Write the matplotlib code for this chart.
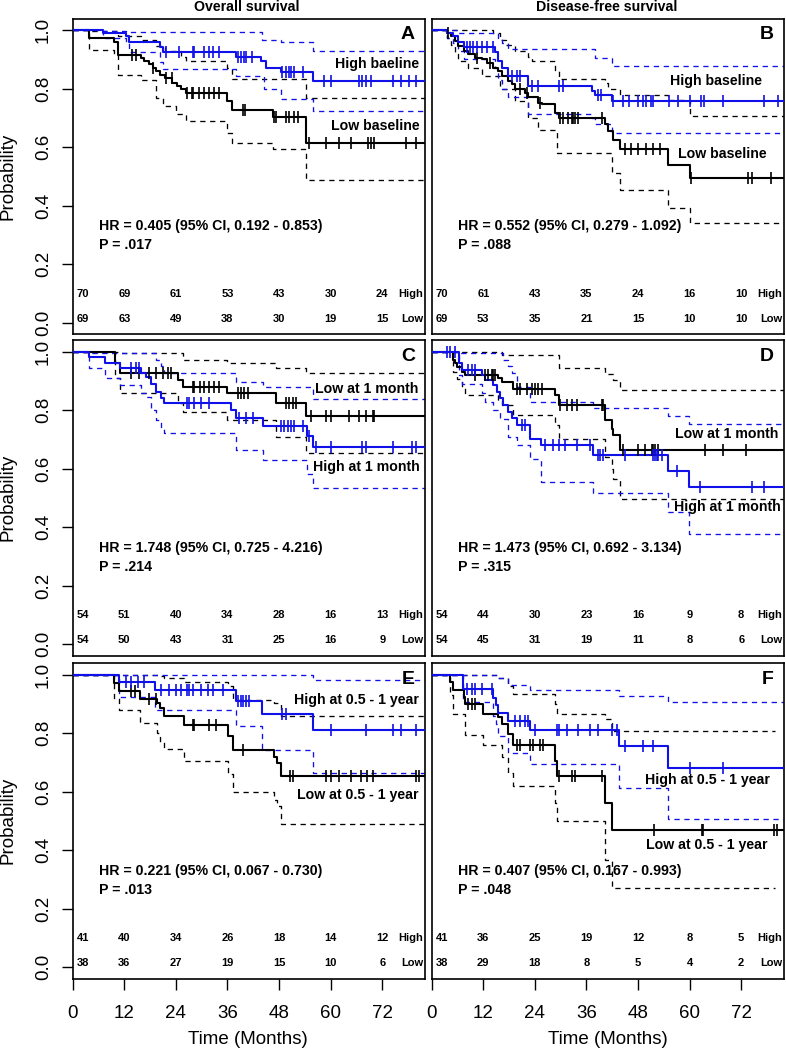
import numpy as np
import matplotlib
matplotlib.use("Agg")
import matplotlib.pyplot as plt

plt.rcParams['font.family'] = ['Liberation Sans', 'DejaVu Sans']

BLUE = '#1010e8'
BLACK = 'black'

# (time, survival) step points; curves start at 1.0
# --- A: overall survival, baseline
a_hi = [(7.0, .992), (12.4, .981), (13.2, .958), (20.2, .942), (20.9, .927), (38.0, .910),
        (43.8, .895), (45.0, .872), (48.5, .858), (55.8, .825)]
a_hi_up = [(7.0, .998), (12.4, .993), (44.0, .968), (48.5, .958), (55.8, .929)]
a_hi_lo = [(7.0, .975), (12.4, .958), (13.2, .925), (20.2, .89), (20.9, .866), (38.0, .843),
           (44.5, .80), (48.5, .763), (55.8, .723)]
a_hi_cens = [21.7, 24.8, 27.9, 28.3, 30.6, 31.8, 32.6, 34.1, 38.4, 39.1, 39.9, 40.3, 41.8, 48.8,
             49.6, 50.4, 50.8, 51.5, 53.5, 58.5, 60.1, 66.6, 67.4, 68.2, 69.4, 74.4, 76.3, 78.3, 79.8]
a_lo = [(3.8, .972), (9.5, .958), (10.6, .915), (15.9, .904), (16.7, .895), (17.7, .883),
        (18.6, .872), (19.4, .861), (20.3, .847), (21.5, .838), (23.2, .821), (24.2, .809),
        (25.2, .798), (26.3, .786), (36.0, .758), (37.1, .726), (46.6, .703), (54.3, .615)]
a_lo_up = [(3.8, .998), (10.6, .98), (15.9, .965), (19.4, .945), (21.5, .93), (25.2, .91),
           (26.3, .895), (36.0, .87), (37.1, .832), (54.3, .769)]
a_lo_lo = [(3.8, .933), (9.5, .915), (10.6, .847), (15.9, .83), (19.4, .769), (21.0, .74),
           (24.0, .712), (26.3, .689), (36.0, .65), (37.1, .615), (46.6, .592), (54.3, .489)]
a_lo_cens = [13.8, 14.7, 18.6, 21.7, 23.1, 26.7, 27.7, 28.0, 29.3, 30.6, 31.8, 32.9, 34.1, 39.5,
             40.1, 46.9, 47.3, 49.6, 50.4, 51.5, 52.3, 55.0, 58.9, 62.0, 64.7, 68.6, 69.4, 70.1,
             77.5, 79.8]
a_risk_hi = [70, 69, 61, 53, 43, 30, 24]
a_risk_lo = [69, 63, 49, 38, 30, 19, 15]

# --- B: disease-free survival, baseline
b_hi = [(3.5, .992), (5.0, .981), (6.2, .958), (7.4, .941), (14.7, .924), (15.5, .895),
        (16.3, .872), (17.8, .843), (22.5, .808), (37.2, .792), (38.0, .778), (41.9, .757)]
b_hi_up = [(6.2, .99), (15.5, .97), (16.3, .955), (17.8, .935), (38.0, .905), (41.9, .878)]
b_hi_lo = [(3.5, .975), (5.0, .955), (6.2, .93), (7.4, .90), (14.7, .87), (15.5, .83),
           (16.3, .80), (17.8, .77), (22.5, .712), (37.2, .70), (38.0, .678), (41.9, .649)]
b_hi_cens = [8.1, 8.9, 9.7, 10.5, 11.6, 12.8, 14.3, 18.6, 19.8, 20.5, 23.3, 24.8, 29.5, 30.6,
             38.6, 39.3, 42.2, 44.5, 46.0, 47.9, 49.1, 49.9, 51.0, 51.4, 55.3, 57.2, 60.0, 62.7,
             63.4, 67.7, 77.4, 80.5]
b_lo = [(3.5, .992), (4.6, .981), (5.4, .963), (6.2, .946), (7.4, .929), (8.5, .918),
        (10.1, .906), (11.6, .90), (12.8, .889), (14.3, .872), (15.5, .861), (16.3, .844),
        (17.8, .826), (18.6, .815), (19.4, .798), (21.7, .786), (22.5, .771), (24.8, .752),
        (25.6, .746), (28.7, .718), (29.5, .700), (40.3, .678), (41.1, .655), (42.2, .626),
        (43.8, .592), (55.0, .540), (60.0, .493)]
b_lo_up = [(14.3, .99), (15.9, .965), (17.4, .95), (19.4, .929), (22.5, .91), (23.3, .895),
           (28.7, .861), (29.5, .834), (40.3, .82), (41.1, .798), (43.8, .78), (55.0, .76),
           (60.0, .706)]
b_lo_lo = [(3.5, .975), (4.6, .95), (5.4, .92), (6.2, .895), (8.5, .872), (11.6, .843),
           (15.9, .798), (19.4, .758), (22.5, .70), (24.8, .66), (29.1, .58), (41.9, .512),
           (43.8, .455), (55.0, .392), (60.0, .34)]
b_lo_cens = [3.9, 10.5, 13.6, 20.5, 22.1, 25.2, 29.8, 30.6, 31.8, 32.6, 32.9, 33.3, 34.1, 39.5,
             44.9, 46.4, 47.9, 49.9, 51.4, 53.0, 60.4, 73.5, 74.6, 79.0]
b_risk_hi = [70, 61, 43, 35, 24, 16, 10]
b_risk_lo = [69, 53, 35, 21, 15, 10, 10]

# --- C: overall survival, 1 month
c_hi = [(3.7, .983), (7.4, .96), (10.9, .943), (15.9, .926), (17.0, .914), (18.2, .891),
        (19.4, .863), (20.5, .84), (21.3, .823), (36.8, .80), (38.0, .772), (44.2, .745),
        (54.6, .712), (55.9, .673)]
c_hi_up = [(3.7, .995), (19.4, .97), (20.5, .95), (21.3, .928), (38.0, .897), (44.2, .88),
           (55.9, .837)]
c_hi_lo = [(3.7, .943), (7.4, .909), (10.9, .885), (15.9, .86), (17.0, .845), (18.2, .80),
           (19.4, .765), (20.5, .74), (21.3, .721), (38.0, .663), (44.2, .629), (54.6, .58),
           (55.9, .535)]
c_hi_cens = [13.6, 14.7, 15.5, 26.7, 27.1, 28.3, 29.8, 31.8, 38.8, 40.3, 41.9, 48.4, 49.2, 50.0,
             50.8, 51.5, 53.5, 55.0, 56.6, 60.1, 67.4, 68.2, 74.4, 79.0, 79.8]
c_lo = [(9.8, .962), (10.9, .926), (24.4, .903), (25.6, .88), (36.0, .857), (47.3, .823),
        (54.3, .779)]
c_lo_up = [(10.9, .995), (25.6, .97), (36.0, .96), (47.3, .943), (54.3, .926)]
c_lo_lo = [(9.8, .91), (10.9, .857), (24.4, .825), (25.6, .795), (36.0, .766), (47.3, .709),
           (54.3, .655)]
c_lo_cens = [13.6, 15.5, 17.8, 19.4, 20.9, 22.1, 22.9, 27.9, 28.3, 29.5, 30.6, 31.8, 32.9, 34.1,
             38.4, 39.1, 39.9, 40.7, 49.6, 50.4, 51.2, 51.9, 55.4, 58.9, 60.1, 64.3, 66.6, 68.2,
             69.8, 70.1]
c_risk_hi = [54, 51, 40, 34, 28, 16, 13]
c_risk_lo = [54, 50, 43, 31, 25, 16, 9]

# --- D: disease-free survival, 1 month
d_hi = [(6.4, .96), (7.0, .937), (11.6, .92), (12.4, .903), (14.3, .885), (15.1, .863),
        (15.9, .84), (16.7, .817), (17.8, .794), (18.6, .772), (19.8, .749), (22.9, .703),
        (25.5, .68), (37.5, .646), (54.9, .592), (59.9, .536)]
d_hi_up = [(6.4, .997), (16.7, .97), (17.8, .95), (18.6, .926), (19.8, .88), (22.9, .829),
           (37.5, .806), (54.9, .78), (59.9, .754)]
d_hi_lo = [(6.4, .92), (7.0, .891), (11.6, .86), (12.4, .829), (14.3, .80), (15.9, .77),
           (17.8, .709), (19.8, .68), (22.9, .634), (25.5, .554), (37.5, .518), (54.9, .452),
           (59.9, .376)]
d_hi_cens = [3.5, 4.3, 5.4, 8.5, 9.3, 10.1, 20.9, 21.7, 26.3, 28.3, 29.5, 31.0, 33.7, 36.8, 38.8,
             39.1, 39.9, 44.9, 51.5, 51.9, 52.3, 52.7, 53.5, 57.0, 62.4, 74.6, 77.3]
d_lo = [(5.0, .971), (5.4, .96), (5.8, .949), (7.0, .931), (7.7, .92), (15.5, .909), (16.3, .897),
        (19.0, .874), (28.7, .851), (29.5, .817), (40.3, .766), (41.9, .737), (42.2, .714),
        (43.8, .663)]
d_lo_up = [(16.3, .989), (29.5, .943), (40.3, .925), (42.2, .903), (43.8, .869)]
d_lo_lo = [(5.0, .93), (5.8, .905), (7.0, .875), (7.7, .851), (15.5, .83), (16.3, .817),
           (19.0, .783), (28.7, .75), (29.5, .703), (40.3, .64), (41.9, .60), (42.2, .566),
           (43.8, .497)]
d_lo_cens = [10.1, 12.4, 13.2, 14.0, 14.3, 14.7, 19.8, 20.5, 22.1, 23.3, 24.0, 24.8, 25.6, 29.8,
             31.4, 32.6, 33.7, 39.5, 39.9, 44.5, 48.1, 49.6, 51.2, 51.5, 51.9, 52.7, 63.5, 67.8,
             73.2]
d_risk_hi = [54, 44, 30, 23, 16, 9, 8]
d_risk_lo = [54, 45, 31, 19, 11, 8, 6]

# --- E: overall survival, 0.5 - 1 year
e_hi = [(10.8, .976), (19.1, .948), (38.0, .91), (44.0, .864), (56.0, .81)]
e_hi_up = [(10.8, .999), (56.0, .983)]
e_hi_lo = [(10.8, .925), (19.1, .879), (38.0, .825), (44.0, .742), (56.0, .662)]
e_hi_cens = [12.4, 13.6, 15.1, 16.7, 20.5, 22.5, 24.0, 25.2, 26.7, 27.1, 27.9, 29.8, 31.4, 32.6,
             34.9, 38.4, 39.1, 39.5, 40.3, 41.1, 48.8, 49.6, 60.1, 68.2, 74.4, 76.3, 79.8]
e_lo = [(9.6, .972), (10.8, .945), (15.6, .918), (19.6, .903), (20.4, .887), (21.3, .859),
        (25.9, .828), (36.2, .79), (37.4, .742), (46.9, .72), (47.5, .698), (48.4, .652)]
e_lo_up = [(20.4, .995), (21.3, .99), (25.9, .975), (36.2, .96), (37.4, .915), (46.9, .903),
           (48.4, .859)]
e_lo_lo = [(9.6, .92), (10.8, .878), (15.6, .834), (19.6, .80), (20.4, .77), (21.3, .745),
           (25.9, .705), (36.2, .66), (37.4, .597), (46.9, .57), (47.5, .55), (48.4, .49)]
e_lo_cens = [13.6, 14.4, 17.8, 19.4, 27.9, 28.3, 31.8, 33.3, 39.5, 50.5, 51.3, 58.9, 60.1, 62.0,
             64.8, 67.0, 68.4, 69.8, 79.8, 80.6]
e_risk_hi = [41, 40, 34, 26, 18, 14, 12]
e_risk_lo = [38, 36, 27, 19, 15, 10, 6]

# --- F: disease-free survival, 0.5 - 1 year
f_hi = [(7.2, .952), (14.3, .92), (15.0, .895), (15.5, .87), (17.8, .84), (22.9, .812),
        (43.5, .757), (54.9, .681)]
f_hi_up = [(15.5, .99), (17.8, .964), (22.9, .946), (43.5, .928), (54.9, .908)]
f_hi_lo = [(7.2, .905), (14.3, .86), (15.0, .83), (15.5, .79), (17.8, .733), (22.9, .693),
           (43.5, .612), (54.9, .505)]
f_hi_cens = [8.1, 9.3, 10.1, 11.6, 14.0, 19.4, 20.5, 21.7, 22.5, 24.0, 29.1, 29.5, 31.4, 34.1,
             36.8, 38.8, 41.9, 43.0, 45.0, 49.2, 51.5, 60.1, 67.8]
f_lo = [(4.3, .975), (5.0, .946), (7.4, .923), (7.8, .90), (12.0, .866), (15.5, .855),
        (16.3, .832), (17.8, .798), (19.0, .76), (28.7, .706), (29.1, .655), (40.3, .561),
        (41.9, .47)]
f_lo_up = [(15.5, .99), (17.8, .962), (19.0, .935), (28.7, .90), (29.1, .864), (40.3, .848),
           (41.9, .807)]
f_lo_lo = [(4.3, .93), (5.0, .864), (7.8, .795), (12.0, .761), (16.3, .72), (17.8, .664),
           (19.0, .618), (28.7, .56), (29.1, .498), (40.3, .367), (41.9, .27)]
f_lo_cens = [8.5, 9.3, 10.1, 19.8, 20.5, 22.9, 23.6, 25.2, 26.0, 29.5, 32.6, 33.3, 39.5, 51.6,
             62.8, 63.2, 79.6, 80.4]
f_risk_hi = [41, 36, 25, 19, 12, 8, 5]
f_risk_lo = [38, 29, 18, 8, 5, 4, 2]

risk_times = [0, 12, 24, 36, 48, 60, 72]

hr_text = {
    'A': ("HR = 0.405 (95% CI, 0.192 - 0.853)", "P = .017"),
    'B': ("HR = 0.552 (95% CI, 0.279 - 1.092)", "P = .088"),
    'C': ("HR = 1.748 (95% CI, 0.725 - 4.216)", "P = .214"),
    'D': ("HR = 1.473 (95% CI, 0.692 - 3.134)", "P = .315"),
    'E': ("HR = 0.221 (95% CI, 0.067 - 0.730)", "P = .013"),
    'F': ("HR = 0.407 (95% CI, 0.167 - 0.993)", "P = .048"),
}


def step_line(ax, pts, end, color, **kw):
    t = [0.0] + [p[0] for p in pts] + [end]
    s = [1.0] + [p[1] for p in pts]
    s = s + [s[-1]]
    ax.step(t, s, where='post', color=color, **kw)


def surv_at(pts, c):
    s = 1.0
    for t, v in pts:
        if t <= c:
            s = v
    return s


def curve(ax, pts, up, lo, cens, color, end=82, ci_end=82):
    step_line(ax, up, ci_end, color, lw=0.95, ls=(0, (4, 3.5)), zorder=2)
    step_line(ax, lo, ci_end, color, lw=0.95, ls=(0, (4, 3.5)), zorder=2)
    step_line(ax, pts, end, color, lw=1.5, zorder=3)
    ax.plot(cens, [surv_at(pts, c) for c in cens], ls='none', marker='|',
            ms=8, mew=1.2, color=color, zorder=4)


W, H = 786, 1052
fig = plt.figure(figsize=(W / 100, H / 100), dpi=100)

col_x = [72.7, 431.7]
row_top = [18.5, 340.0, 663.0]
pw, ph = 352.5, 315.7


def make_ax(r, c):
    ax = fig.add_axes([col_x[c] / W, 1 - (row_top[r] + ph) / H, pw / W, ph / H])
    ax.set_xlim(0, 82)
    ax.set_ylim(-0.04, 1.04)
    for sp in ax.spines.values():
        sp.set_linewidth(1.2)
    ax.tick_params(direction='out', length=8, width=1.0, labelsize=13.5)
    if r == 2:
        ax.set_xticks(range(0, 73, 12))
        ax.tick_params(axis='x', pad=11)
    else:
        ax.set_xticks([])
    if c == 0:
        yt = np.arange(0, 1.01, 0.2)
        ax.set_yticks(yt)
        ax.set_yticklabels(['%.1f' % v for v in yt], rotation=90, va='center')
        ax.tick_params(axis='y', pad=7)
    else:
        ax.set_yticks([])
    return ax


def annotate(ax, letter, risk_hi, risk_lo):
    hr, p = hr_text[letter]
    ax.text(6.1, 0.33, hr, fontsize=10.2, fontweight='bold', ha='left', va='center')
    ax.text(6.1, 0.265, p, fontsize=10.2, fontweight='bold', ha='left', va='center')
    ax.text(79.6, 0.985, letter, fontsize=14, fontweight='bold', ha='right', va='center')
    for i, t in enumerate(risk_times):
        if t == 0:
            x, ha = 0.9, 'left'
        else:
            x, ha = t, 'center'
        ax.text(x, 0.098, str(risk_hi[i]), fontsize=8, fontweight='bold', ha=ha, va='center')
        ax.text(x, 0.012, str(risk_lo[i]), fontsize=8, fontweight='bold', ha=ha, va='center')
    ax.text(81.5, 0.098, 'High', fontsize=8, fontweight='bold', ha='right', va='center')
    ax.text(81.5, 0.012, 'Low', fontsize=8, fontweight='bold', ha='right', va='center')


def label(ax, x, y, s):
    ax.text(x, y, s, fontsize=10.2, fontweight='bold', ha='right', va='center', zorder=5)


# A
ax = make_ax(0, 0)
curve(ax, a_lo, a_lo_up, a_lo_lo, a_lo_cens, BLACK)
curve(ax, a_hi, a_hi_up, a_hi_lo, a_hi_cens, BLUE)
annotate(ax, 'A', a_risk_hi, a_risk_lo)
label(ax, 80.5, 0.883, 'High baeline')
label(ax, 80.8, 0.672, 'Low baseline')

# B
ax = make_ax(0, 1)
curve(ax, b_lo, b_lo_up, b_lo_lo, b_lo_cens, BLACK)
curve(ax, b_hi, b_hi_up, b_hi_lo, b_hi_cens, BLUE)
annotate(ax, 'B', b_risk_hi, b_risk_lo)
label(ax, 76.8, 0.826, 'High baseline')
label(ax, 77.8, 0.577, 'Low baseline')

# C
ax = make_ax(1, 0)
curve(ax, c_lo, c_lo_up, c_lo_lo, c_lo_cens, BLACK)
curve(ax, c_hi, c_hi_up, c_hi_lo, c_hi_cens, BLUE)
annotate(ax, 'C', c_risk_hi, c_risk_lo)
label(ax, 80.5, 0.871, 'Low at 1 month')
label(ax, 80.8, 0.606, 'High at 1 month')

# D
ax = make_ax(1, 1)
curve(ax, d_lo, d_lo_up, d_lo_lo, d_lo_cens, BLACK)
curve(ax, d_hi, d_hi_up, d_hi_lo, d_hi_cens, BLUE)
annotate(ax, 'D', d_risk_hi, d_risk_lo)
label(ax, 80.7, 0.72, 'Low at 1 month')
label(ax, 81.1, 0.469, 'High at 1 month')

# E
ax = make_ax(2, 0)
curve(ax, e_lo, e_lo_up, e_lo_lo, e_lo_cens, BLACK)
curve(ax, e_hi, e_hi_up, e_hi_lo, e_hi_cens, BLUE)
annotate(ax, 'E', e_risk_hi, e_risk_lo)
label(ax, 80.6, 0.915, 'High at 0.5 - 1 year')
label(ax, 80.5, 0.59, 'Low at 0.5 - 1 year')

# F
ax = make_ax(2, 1)
curve(ax, f_lo, f_lo_up, f_lo_lo, f_lo_cens, BLACK, ci_end=79.8)
curve(ax, f_hi, f_hi_up, f_hi_lo, f_hi_cens, BLUE)
annotate(ax, 'F', f_risk_hi, f_risk_lo)
label(ax, 78.6, 0.639, 'High at 0.5 - 1 year')
label(ax, 78.2, 0.418, 'Low at 0.5 - 1 year')

# titles and axis labels
fig.text(247 / W, 1 - 7 / H, 'Overall survival', fontsize=10.2, fontweight='bold',
         ha='center', va='center')
fig.text(607 / W, 1 - 7 / H, 'Disease-free survival', fontsize=10.2, fontweight='bold',
         ha='center', va='center')
for top in row_top:
    fig.text(8 / W, 1 - (top + ph / 2) / H, 'Probability', fontsize=13.5, rotation=90,
             ha='center', va='center')
fig.text(248 / W, 1 - 1040 / H, 'Time (Months)', fontsize=13.5, ha='center', va='center')
fig.text(608 / W, 1 - 1040 / H, 'Time (Months)', fontsize=13.5, ha='center', va='center')

fig.savefig('out.png', dpi=100)
